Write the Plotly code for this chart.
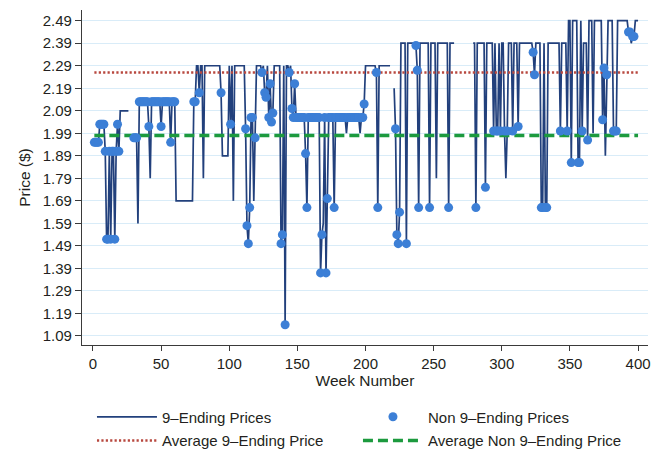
import plotly.graph_objects as go

# ---- data: weekly price as change points (week where a new price starts; None = missing weeks)
change_week = [1, 5, 9, 10, 12, 13, 14, 16, 17, 18, 19, 20, 27,
               30, 33, 34, 41, 42, 43, 50, 51, 57, 58, 61, 74, 76, 78, 79, 81, 82,
               94, 95, 100, 101, 102, 103, 104, 112, 113, 114, 115, 116, 118, 119, 120,
               124, 125, 126, 127, 128, 129, 130, 131, 132, 133, 138, 139, 140, 141, 142,
               144, 145, 146, 147, 148, 149, 156, 157, 158, 167, 168, 169, 170, 171, 172,
               173, 177, 178, 186, 187, 196, 197, 199, 200, 208, 209, 210, 219,
               221, 222, 223, 224, 225, 226, 230, 231, 237, 238, 239, 240, 247, 248,
               252, 253, 261, 262, 266,
               279, 281, 282, 288, 289, 294, 295, 296, 298, 299, 300, 302, 303, 304,
               305, 308, 309, 312, 313, 323, 324, 325, 329, 331, 332, 334, 343, 344,
               348, 349, 351, 352, 356, 358, 359, 360, 363, 364, 367, 368, 374, 375,
               376, 377, 378, 382, 385, 393, 395, 396, 398]
change_price = [1.95, 2.03, 1.91, 1.52, 1.91, 1.52, 1.91, 1.52, 1.91, 2.03, 1.91, 2.09, None,
                1.97, 1.59, 2.13, 2.02, 1.79, 2.13, 2.02, 2.13, 1.95, 2.13, 1.69, 2.13, 2.29, 2.17, 2.29, 1.79, 2.29,
                2.17, 1.89, 2.29, 2.03, 2.29, 1.69, 2.29, 2.01, 1.58, 1.50, 1.66, 2.06, 1.69, 1.97, 2.29,
                2.26, 2.29, 2.17, 2.15, 2.29, 2.06, 2.21, 2.04, 2.08, 2.29, 1.50, 1.54, 2.29, 1.14, 2.29,
                2.26, 2.29, 2.10, 2.06, 2.21, 2.06, 1.90, 1.66, 2.06, 1.37, 1.54, 1.59, 2.06, 1.37, 1.70,
                2.06, 1.66, 2.06, 1.99, 2.06, 1.99, 2.06, 2.12, 2.29, 2.26, 1.66, 2.29, None,
                2.19, 2.01, 1.54, 1.50, 1.64, 2.39, 1.50, 2.39, 2.38, 2.27, 1.66, 2.39, 1.66, 2.39,
                1.79, 2.39, 1.66, 2.39, None,
                2.39, 1.66, 2.39, 1.75, 2.39, 2.00, 2.39, 2.00, 2.39, 2.00, 2.39, 2.00, 1.79, 2.00,
                2.39, 2.00, 2.39, 2.02, 2.39, 2.35, 2.25, 2.39, 1.66, 2.39, 1.66, 2.39, 2.00, 2.39,
                2.00, 2.49, 1.86, 2.49, 1.86, 2.49, 2.00, 2.39, 1.96, 2.49, 1.99, 2.49, 2.05, 2.28,
                1.89, 2.25, 2.49, 2.00, 2.49, 2.44, 2.39, 2.42, 2.49]
last_week = 400

avg_9_ending = 2.26
avg_non9_ending = 1.98

x_ticks = [0, 50, 100, 150, 200, 250, 300, 350, 400]
y_ticks = [1.09, 1.19, 1.29, 1.39, 1.49, 1.59, 1.69, 1.79, 1.89, 1.99,
           2.09, 2.19, 2.29, 2.39, 2.49]

# ---- expand step data to weekly series
weeks = list(range(1, last_week + 1))
prices = []
k = -1
for w in weeks:
    while k + 1 < len(change_week) and change_week[k + 1] <= w:
        k += 1
    prices.append(change_price[k])

dot_weeks = [w for w, p in zip(weeks, prices) if p is not None and round(p * 100) % 10 != 9]
dot_prices = [p for p in prices if p is not None and round(p * 100) % 10 != 9]

FONT = "Liberation Sans, Arial, sans-serif"
TXT = "#231f20"

fig = go.Figure()
fig.add_trace(go.Scatter(x=weeks, y=prices, mode="lines", name="9\u2013Ending Prices",
                         line=dict(color="#22407c", width=1.7), legend="legend",
                         connectgaps=False))
fig.add_trace(go.Scatter(x=[weeks[0], weeks[-1]], y=[avg_9_ending, avg_9_ending], mode="lines",
                         name="Average 9\u2013Ending Price",
                         line=dict(color="#b8483f", width=2.6, dash="2.2px,2.2px"),
                         legend="legend2"))
fig.add_trace(go.Scatter(x=[weeks[0], weeks[-1]], y=[avg_non9_ending, avg_non9_ending], mode="lines",
                         name="Average Non 9\u2013Ending Price",
                         line=dict(color="#1c9a3e", width=3.5, dash="10px,5px"),
                         legend="legend2"))
fig.add_trace(go.Scatter(x=dot_weeks, y=dot_prices, mode="markers", name="Non 9\u2013Ending Prices",
                         marker=dict(color="#3c7fd6", size=9, line=dict(width=0)),
                         legend="legend"))

fig.update_layout(
    width=657, height=470,
    margin=dict(l=82, r=9, t=10, b=125),
    paper_bgcolor="white", plot_bgcolor="white",
    font=dict(family=FONT, size=15, color=TXT),
    legend=dict(orientation="h", x=0.0176, xanchor="left", y=-0.215, yanchor="middle",
                itemwidth=60, entrywidth=191, font=dict(size=15, color=TXT),
                bgcolor="rgba(0,0,0,0)", traceorder="normal"),
    legend2=dict(orientation="h", x=0.0176, xanchor="left", y=-0.286, yanchor="middle",
                 itemwidth=60, entrywidth=191, font=dict(size=15, color=TXT),
                 bgcolor="rgba(0,0,0,0)", traceorder="normal"),
)
fig.update_xaxes(range=[-8.06, 407.3], tickvals=x_ticks, ticks="outside", ticklen=5,
                 tickcolor="#3a3a3a", showline=True, linecolor="#3a3a3a", linewidth=1.2,
                 showgrid=False, zeroline=False, automargin=False,
                 title=dict(text="Week Number", font=dict(size=15.5, color=TXT), standoff=4),
                 tickfont=dict(size=15, color=TXT))
fig.update_yaxes(range=[1.050, 2.5375], tickvals=y_ticks,
                 ticktext=["%.2f" % v for v in y_ticks], ticks="outside", ticklen=6,
                 tickcolor="#3a3a3a", showline=True, linecolor="#3a3a3a", linewidth=1.2,
                 showgrid=True, gridcolor="#d9ecf8", gridwidth=1, zeroline=False,
                 automargin=False,
                 title=dict(text="Price ($)", font=dict(size=15.5, color=TXT), standoff=8),
                 tickfont=dict(size=15, color=TXT))

fig.write_html(
    "out.html",
    config={"displayModeBar": False},
    post_script="document.body.style.margin='0';document.body.style.overflow='hidden';"
                "document.documentElement.style.overflow='hidden';",
)
